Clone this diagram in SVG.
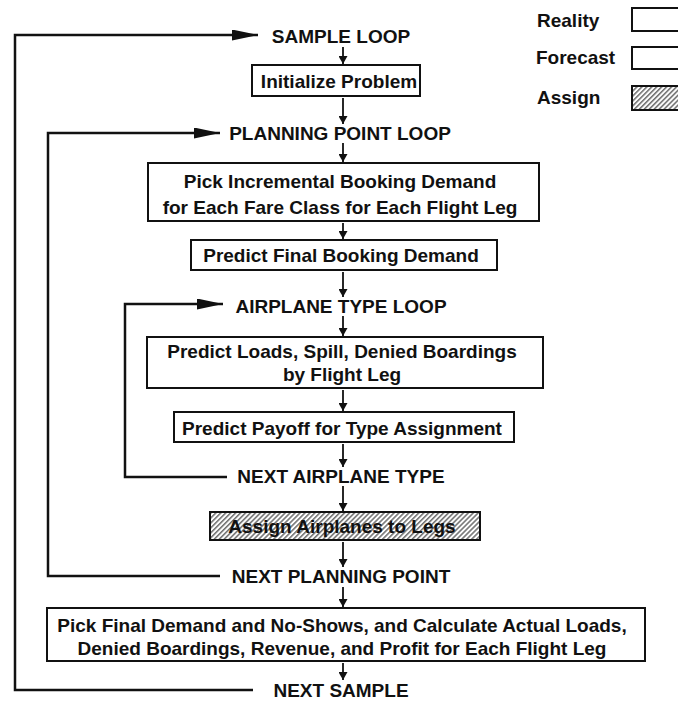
<svg xmlns="http://www.w3.org/2000/svg" width="678" height="702" viewBox="0 0 678 702">
  <style>
    text { font-family: "Liberation Sans", Arial, Helvetica, sans-serif; font-weight: bold; font-size: 19px; fill: #111; text-anchor: middle; }
    text.legend { text-anchor: start; }
    .box { fill: #fff; stroke: #111; stroke-width: 2; }
    .assign { fill: url(#hatch); stroke: #111; stroke-width: 2; }
    .loop { fill: none; stroke: #111; stroke-width: 2.5; }
    .step { fill: none; stroke: #111; stroke-width: 1.8; marker-end: url(#tip); }
    .loopin { marker-end: url(#bigtip); }
  </style>
  <defs>
    <pattern id="hatch" width="3.5" height="3.5" patternUnits="userSpaceOnUse" patternTransform="rotate(45)">
      <rect width="3.5" height="3.5" fill="#fff"/>
      <line x1="0.8" y1="0" x2="0.8" y2="3.5" stroke="#555" stroke-width="1.3"/>
    </pattern>
    <marker id="tip" markerUnits="userSpaceOnUse" markerWidth="9" markerHeight="9" refX="8" refY="4.5" orient="auto">
      <path d="M0,0 L8,4.5 L0,9 Z" fill="#111"/>
    </marker>
    <marker id="bigtip" markerUnits="userSpaceOnUse" markerWidth="27" markerHeight="11" refX="26" refY="5.5" orient="auto">
      <path d="M0,0 L26,5.5 L0,11 Z" fill="#111"/>
    </marker>
  </defs>

  <!-- legend -->
  <g id="legend">
    <text class="legend" x="537" y="27">Reality</text>
    <rect class="box" x="632" y="8" width="60" height="23"/>
    <text class="legend" x="536" y="64">Forecast</text>
    <rect class="box" x="632" y="47" width="60" height="22"/>
    <text class="legend" x="537" y="104">Assign</text>
    <rect class="assign" x="632" y="86" width="60" height="24"/>
  </g>

  <!-- connectors: loop back-edges and step arrows -->
  <g id="connectors">
    <path class="loop loopin" d="M253,690 H15 V35 H258"/>
    <path class="loop loopin" d="M220,576 H48 V133 H220"/>
    <path class="loop loopin" d="M227,477 H125 V304 H223"/>

    <path class="step" d="M343,47 V64"/>
    <path class="step" d="M343,98 V124"/>
    <path class="step" d="M343,143 V162"/>
    <path class="step" d="M343,223 V239"/>
    <path class="step" d="M343,272 V297"/>
    <path class="step" d="M343,316 V336"/>
    <path class="step" d="M343,390 V411"/>
    <path class="step" d="M343,444 V467"/>
    <path class="step" d="M343,486 V511"/>
    <path class="step" d="M343,542 V567"/>
    <path class="step" d="M343,587 V607"/>
    <path class="step" d="M343,663 V680"/>
  </g>

  <!-- loop labels -->
  <g id="sample-loop"><text x="341" y="43">SAMPLE LOOP</text></g>
  <g id="init">
    <rect class="box" x="252" y="65" width="168" height="31"/>
    <text x="339" y="88">Initialize Problem</text>
  </g>
  <g id="planning-loop"><text x="340" y="140">PLANNING POINT LOOP</text></g>
  <g id="pick-incremental">
    <rect class="box" x="148" y="163" width="391" height="58"/>
    <text x="340" y="188">Pick Incremental Booking Demand</text>
    <text x="340" y="214">for Each Fare Class for Each Flight Leg</text>
  </g>
  <g id="predict-final">
    <rect class="box" x="191" y="240" width="306" height="30"/>
    <text x="341" y="262">Predict Final Booking Demand</text>
  </g>
  <g id="airplane-loop"><text x="341" y="313">AIRPLANE TYPE LOOP</text></g>
  <g id="predict-loads">
    <rect class="box" x="147" y="337" width="396" height="51"/>
    <text x="342" y="358">Predict Loads, Spill, Denied Boardings</text>
    <text x="342" y="381">by Flight Leg</text>
  </g>
  <g id="predict-payoff">
    <rect class="box" x="174" y="412" width="340" height="30"/>
    <text x="342" y="435">Predict Payoff for Type Assignment</text>
  </g>
  <g id="next-airplane"><text x="341" y="483">NEXT AIRPLANE TYPE</text></g>
  <g id="assign">
    <rect class="assign" x="210" y="512" width="270" height="28"/>
    <text x="342" y="533">Assign Airplanes to Legs</text>
  </g>
  <g id="next-planning"><text x="341" y="583">NEXT PLANNING POINT</text></g>
  <g id="pick-final">
    <rect class="box" x="47" y="608" width="598" height="53"/>
    <text x="342" y="632">Pick Final Demand and No-Shows, and Calculate Actual Loads,</text>
    <text x="342" y="655">Denied Boardings, Revenue, and Profit for Each Flight Leg</text>
  </g>
  <g id="next-sample"><text x="341" y="697">NEXT SAMPLE</text></g>
</svg>
